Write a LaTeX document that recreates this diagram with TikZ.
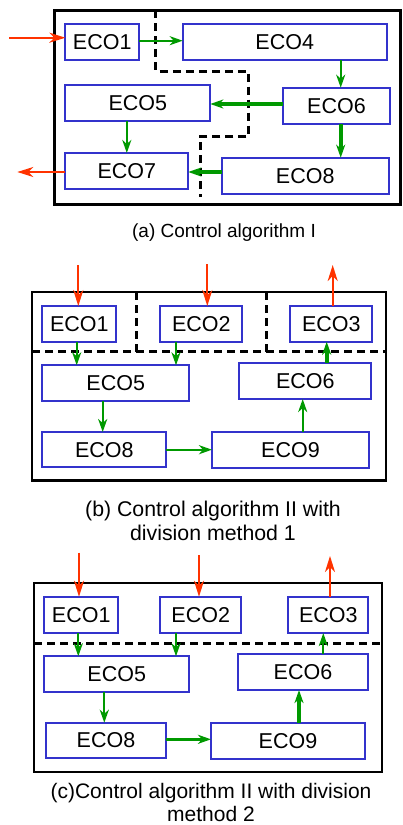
\documentclass[tikz,border=0pt]{standalone}
\usepackage{fontspec}
\setmainfont{Liberation Sans}
\usetikzlibrary{arrows.meta,calc}
\definecolor{ered}{RGB}{255,51,0}
\definecolor{egreen}{RGB}{0,153,0}
\definecolor{eblue}{RGB}{51,51,204}
\begin{document}
\begin{tikzpicture}[x=1pt,y=-1pt,
 eco/.style={draw=eblue,line width=2pt,inner sep=0pt,outer sep=0pt,font=\fontsize{21.5}{24}\selectfont},
 frame/.style={draw=black,line width=2.7pt},
 divline/.style={draw=black,line width=3pt,dash pattern=on 8pt off 5pt},
 garr/.style={draw=egreen,line width=2.3pt,-{Stealth[length=13pt,width=9pt,inset=4pt]}},
 garrthick/.style={garr,line width=3.6pt},
 rarr/.style={draw=ered,line width=2pt,-{Stealth[length=16pt,width=10pt,inset=5pt]}},
 captext/.style={inner sep=0pt,align=center}
]
\useasboundingbox (0,0) rectangle (403,825);

% ---------- panel (a) ----------
\draw[frame] (54.5,10.2) rectangle (400.5,204.5);
\draw[divline] (155.7,10.2) -- (155.7,71) -- (248.3,71) -- (248.3,136.7) -- (200,136.7) -- (200,196.7);
\node[eco,minimum width=73.7pt,minimum height=36pt] (a1) at (102.2,42.3) {ECO1};
\node[eco,minimum width=204pt,minimum height=36pt] (a4) at (284.7,42.3) {ECO4};
\node[eco,minimum width=145pt,minimum height=35.7pt] (a5) at (137.8,102.9) {ECO5};
\node[eco,minimum width=106.4pt,minimum height=36pt] (a6) at (336.5,105.7) {ECO6};
\node[eco,minimum width=123pt,minimum height=36pt] (a7) at (126.8,171) {ECO7};
\node[eco,minimum width=167pt,minimum height=36pt] (a8) at (305.2,175.7) {ECO8};
\coordinate (ina) at (9,37.7);
\draw[rarr] (ina) -- (ina -| a1.west);
\coordinate (outa) at (17.3,172);
\draw[rarr] (outa -| a7.west) -- (outa);
\draw[garr] ($(a1.east)+(0,-1.6)$) -- ($(a4.west)+(0,-1.6)$);
\draw[garr] ($(a4.south)+(56,0)$) -- ($(a6.north)+(4.2,0)$);
\draw[garrthick] ($(a6.west)+(0,-1.7)$) -- ($(a5.east)+(0,1.1)$);
\draw[garr] (a7.north |- a5.south) -- (a7.north);
\draw[garrthick] ($(a6.south)+(4.2,0)$) -- ($(a8.north)+(35.5,0)$);
\draw[garrthick] ($(a8.west)+(0,-3.7)$) -- ($(a7.east)+(0,1)$);
\node[captext,font=\fontsize{19}{23}\selectfont] (capa) at (224,232.3) {(a) Control algorithm I};

% ---------- panel (b) ----------
\draw[frame] (32,292) rectangle (386,480.5);
\draw[divline] (32,351.7) -- (386,351.7);
\draw[divline] (136,292) -- (136,351.7);
\draw[divline] (266,292) -- (266,351.7);
\node[eco,minimum width=74pt,minimum height=35.7pt] (b1) at (79.3,323.9) {ECO1};
\node[eco,minimum width=82pt,minimum height=35.7pt] (b2) at (201.3,323.9) {ECO2};
\node[eco,minimum width=82pt,minimum height=35.7pt] (b3) at (331.3,323.9) {ECO3};
\node[eco,minimum width=146.7pt,minimum height=36pt] (b5) at (115.7,383.3) {ECO5};
\node[eco,minimum width=132pt,minimum height=35.7pt] (b6) at (305.3,381.2) {ECO6};
\node[eco,minimum width=124pt,minimum height=35.3pt] (b8) at (104.3,449.7) {ECO8};
\node[eco,minimum width=157pt,minimum height=36pt] (b9) at (290.5,450) {ECO9};
\coordinate (inb1) at (78.3,265);
\draw[rarr] (inb1) -- (inb1 |- b1.north);
\coordinate (inb2) at (207.3,264);
\draw[rarr] (inb2) -- (inb2 |- b2.north);
\coordinate (outb3) at (332.7,265);
\draw[rarr] (outb3 |- b3.north) -- (outb3);
\draw[garr] ($(b1.south)+(-2.6,0)$) -- ($(b5.north)+(-39,0)$);
\draw[garr] ($(b2.south)+(-25.3,0)$) -- ($(b5.north)+(60.3,0)$);
\draw[garr] ($(b5.south)+(-13,0)$) -- ($(b8.north)+(-1.6,0)$);
\draw[garr] (b8.east) -- (b8.east -| b9.west);
\draw[garr] ($(b9.north)+(12.2,0)$) -- ($(b6.south)+(-2.6,0)$);
\draw[garrthick] ($(b6.north)+(21.4,0)$) -- ($(b3.south)+(-4.6,0)$);
\node[captext,font=\fontsize{21.3}{23.5}\selectfont] (capb) at (213,520.8) {(b) Control algorithm II with\\division method 1};

% ---------- panel (c) ----------
\draw[frame] (34,583) rectangle (382,772);
\draw[divline] (34,643.3) -- (382,643.3);
\node[eco,minimum width=73.7pt,minimum height=36.3pt] (c1) at (81.2,614.9) {ECO1};
\node[eco,minimum width=80.7pt,minimum height=36.3pt] (c2) at (200.7,614.9) {ECO2};
\node[eco,minimum width=80pt,minimum height=36.3pt] (c3) at (328.3,614.9) {ECO3};
\node[eco,minimum width=144.7pt,minimum height=36pt] (c5) at (116.7,674.3) {ECO5};
\node[eco,minimum width=129.4pt,minimum height=35.7pt] (c6) at (303,672.2) {ECO6};
\node[eco,minimum width=120.6pt,minimum height=35.3pt] (c8) at (106,740.4) {ECO8};
\node[eco,minimum width=154pt,minimum height=36.3pt] (c9) at (288,740.9) {ECO9};
\coordinate (inc1) at (79,552.7);
\draw[rarr] (inc1) -- (inc1 |- c1.north);
\coordinate (inc2) at (199,555);
\draw[rarr] (inc2) -- (inc2 |- c2.north);
\coordinate (outc3) at (330,556);
\draw[rarr] (outc3 |- c3.north) -- (outc3);
\draw[garr] ($(c1.south)+(-2.9,0)$) -- ($(c5.north)+(-38.4,0)$);
\draw[garr] ($(c2.south)+(-24.7,0)$) -- ($(c5.north)+(59.3,0)$);
\draw[garr] ($(c5.south)+(-12.4,0)$) -- ($(c8.north)+(-1.7,0)$);
\draw[garrthick] ($(c8.east)+(0,-1.1)$) -- ($(c9.west)+(0,-1.6)$);
\draw[garrthick] ($(c9.north)+(11,0)$) -- ($(c6.south)+(-4,0)$);
\draw[garr] ($(c6.north)+(20.3,0)$) -- ($(c3.south)+(-5,0)$);
\node[captext,font=\fontsize{21}{23}\selectfont] (capc) at (211,802.5) {(c)Control algorithm II with division\\method 2};
\end{tikzpicture}
\end{document}
